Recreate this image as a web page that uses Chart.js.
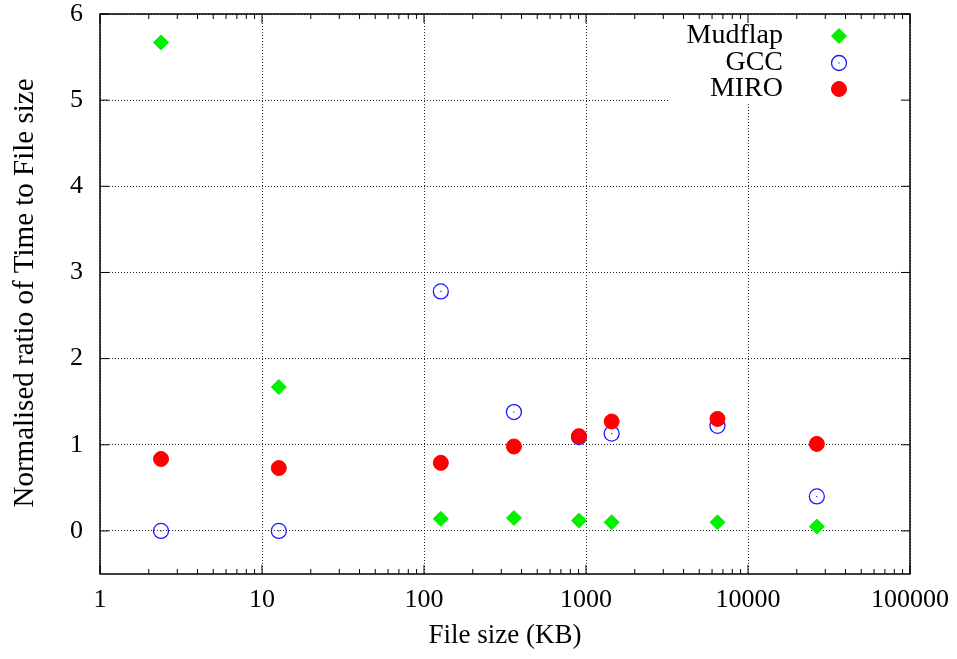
<!DOCTYPE html>
<html>

<head>
  <meta charset="UTF-8">
  <title>Normalised ratio</title>
  <script src="https://cdn.jsdelivr.net/npm/chart.js"></script>
  <style>
    body {
      margin: 0;
      background: white;
    }
  </style>
</head>

<body>
  <canvas id="chart" width="957" height="659"></canvas>

  <script>
    const fileSizes = [2.38, 12.7, 127, 359, 905, 1440, 6480, 26600];
    const mudflap = [5.67, 1.67, 0.14, 0.15, 0.12, 0.10, 0.10, 0.05];
    const gcc = [0, 0, 2.78, 1.38, 1.09, 1.13, 1.22, 0.40];
    const miro = [0.835, 0.73, 0.79, 0.98, 1.10, 1.27, 1.30, 1.01];

    const xTicks = [1, 10, 100, 1000, 10000, 100000];
    const yTicks = [0, 1, 2, 3, 4, 5, 6];

    const seriesNames = ['Mudflap', 'GCC', 'MIRO'];

    const tickFont = { family: 'Liberation Serif', size: 26 };
    const keyFont = '28px "Liberation Serif"';

    function toPoints(values) {
      return values.map((v, i) => ({ x: fileSizes[i], y: v }));
    }

    // no extra room for the edge labels, the frame is fixed
    function fixBox(scale, prop, size) {
      scale[prop] = size;
      scale.paddingTop = 0;
      scale.paddingBottom = 0;
      scale.paddingLeft = 0;
      scale.paddingRight = 0;
    }

    // gnuplot style frame, inward ticks, key box and titles
    const gnuplotLook = {
      id: 'gnuplotLook',
      beforeDatasetsDraw(chart) {
        const { ctx, chartArea: a } = chart;
        // white box behind the key
        ctx.save();
        ctx.fillStyle = 'white';
        ctx.fillRect(670, a.top + 1, a.right - 671, 89);
        ctx.restore();
      },
      afterDatasetsDraw(chart) {
        const { ctx } = chart;
        // little dot in the middle of the GCC circles
        const meta = chart.getDatasetMeta(1);
        ctx.save();
        ctx.fillStyle = '#1a1aff';
        meta.data.forEach(p => {
          ctx.fillRect(p.x - 0.6, p.y - 0.6, 1.2, 1.2);
        });
        ctx.restore();
      },
      afterDraw(chart) {
        const { ctx, chartArea: a, scales } = chart;
        const x = scales.x, y = scales.y;
        ctx.save();
        ctx.strokeStyle = 'black';
        ctx.lineWidth = 1.5;
        ctx.strokeRect(a.left, a.top, a.right - a.left, a.bottom - a.top);

        ctx.lineWidth = 1;
        ctx.beginPath();
        // major ticks on y
        yTicks.forEach(v => {
          const py = y.getPixelForValue(v);
          ctx.moveTo(a.left, py); ctx.lineTo(a.left + 9, py);
          ctx.moveTo(a.right, py); ctx.lineTo(a.right - 9, py);
        });
        // major and minor ticks on log x
        xTicks.forEach((v, i) => {
          const px = x.getPixelForValue(v);
          ctx.moveTo(px, a.bottom); ctx.lineTo(px, a.bottom - 9);
          ctx.moveTo(px, a.top); ctx.lineTo(px, a.top + 9);
          if (i < xTicks.length - 1) {
            for (let m = 2; m < 10; m++) {
              const mx = x.getPixelForValue(v * m);
              ctx.moveTo(mx, a.bottom); ctx.lineTo(mx, a.bottom - 5);
              ctx.moveTo(mx, a.top); ctx.lineTo(mx, a.top + 5);
            }
          }
        });
        ctx.stroke();

        // key
        ctx.font = keyFont;
        ctx.textAlign = 'right';
        ctx.textBaseline = 'middle';
        const rows = [a.top + 22, a.top + 49, a.top + 75];
        chart.data.datasets.forEach((ds, i) => {
          const ky = rows[i], kx = 839, r = ds.pointRadius;
          ctx.fillStyle = 'black';
          ctx.fillText(seriesNames[i], 783, ky);
          ctx.fillStyle = ds.backgroundColor;
          ctx.strokeStyle = ds.borderColor;
          ctx.lineWidth = ds.borderWidth;
          ctx.beginPath();
          if (ds.pointStyle === 'rectRot') {
            ctx.moveTo(kx - r, ky); ctx.lineTo(kx, ky - r);
            ctx.lineTo(kx + r, ky); ctx.lineTo(kx, ky + r);
            ctx.closePath();
          } else {
            ctx.arc(kx, ky, r, 0, Math.PI * 2);
          }
          ctx.fill();
          ctx.stroke();
          if (i === 1) {
            ctx.fillStyle = '#1a1aff';
            ctx.fillRect(kx - 0.6, ky - 0.6, 1.2, 1.2);
          }
        });

        // axis titles
        ctx.fillStyle = 'black';
        ctx.textAlign = 'center';
        ctx.textBaseline = 'alphabetic';
        ctx.font = '27px "Liberation Serif"';
        ctx.fillText('File size (KB)', (a.left + a.right) / 2, 643);
        ctx.font = '29px "Liberation Serif"';
        ctx.translate(33, 293);
        ctx.rotate(-Math.PI / 2);
        ctx.fillText('Normalised ratio of Time to File size', 0, 0);
        ctx.restore();
      }
    };

    new Chart(document.getElementById('chart'), {
      type: 'scatter',
      data: {
        datasets: [{
          label: 'Mudflap',
          data: toPoints(mudflap),
          pointStyle: 'rectRot',
          pointRadius: 7.5,
          backgroundColor: '#00f000',
          borderColor: '#00f000',
          borderWidth: 1,
          order: 2
        }, {
          label: 'GCC',
          data: toPoints(gcc),
          pointStyle: 'circle',
          pointRadius: 7.5,
          backgroundColor: 'rgba(0,0,0,0)',
          borderColor: '#1a1aff',
          borderWidth: 1.3,
          order: 1
        }, {
          label: 'MIRO',
          data: toPoints(miro),
          pointStyle: 'circle',
          pointRadius: 7.5,
          backgroundColor: '#ff0000',
          borderColor: '#ff0000',
          borderWidth: 1,
          order: 0
        }]
      },
      options: {
        responsive: false,
        animation: false,
        layout: {
          padding: { left: 0, top: 14, right: 47, bottom: 0 }
        },
        plugins: {
          legend: { display: false },
          tooltip: { enabled: false }
        },
        scales: {
          x: {
            type: 'logarithmic',
            min: 1,
            max: 100000,
            afterBuildTicks: scale => {
              scale.ticks = xTicks.map(v => ({ value: v }));
            },
            afterFit: scale => fixBox(scale, 'height', 85),
            grid: {
              color: 'rgba(0,0,0,0.85)',
              lineWidth: 1,
              drawTicks: false
            },
            border: { dash: [1, 2], display: false },
            ticks: {
              font: tickFont,
              color: 'black',
              padding: 11,
              maxRotation: 0,
              autoSkip: false,
              callback: v => String(v)
            }
          },
          y: {
            min: -0.5,
            max: 6,
            afterBuildTicks: scale => {
              scale.ticks = yTicks.map(v => ({ value: v }));
            },
            afterFit: scale => fixBox(scale, 'width', 100),
            grid: {
              color: 'rgba(0,0,0,0.85)',
              lineWidth: 1,
              drawTicks: false
            },
            border: { dash: [1, 2], display: false },
            ticks: {
              font: tickFont,
              color: 'black',
              padding: 17,
              callback: v => String(v)
            }
          }
        }
      },
      plugins: [gnuplotLook]
    });
  </script>
</body>

</html>
